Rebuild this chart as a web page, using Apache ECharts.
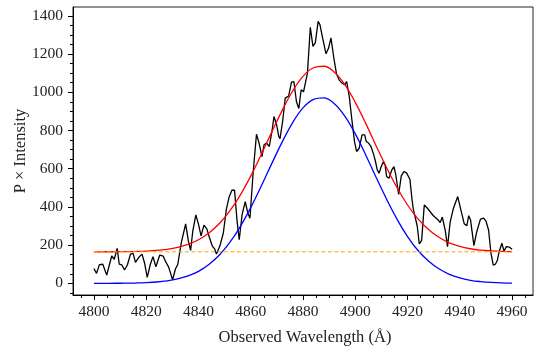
<!DOCTYPE html>
<html>
<head>
<meta charset="utf-8">
<script src="https://cdn.jsdelivr.net/npm/echarts@6/dist/echarts.min.js"></script>
<style>html,body{margin:0;padding:0;background:#fff}#c{width:543px;height:346px}</style>
</head>
<body>
<div id="c"></div>
<script>
// Observed spectrum (black)
const obsWave = [4800.0,4801.0,4802.1,4803.4,4804.0,4804.9,4806.8,4807.8,4808.9,4809.7,4810.7,4811.7,4812.8,4814.0,4815.0,4815.9,4817.1,4818.4,4819.4,4820.4,4821.6,4822.6,4823.7,4825.2,4826.5,4827.5,4828.6,4830.1,4831.2,4832.1,4833.4,4835.1,4836.1,4837.0,4837.8,4839.0,4840.1,4841.0,4842.1,4843.2,4844.2,4845.3,4846.2,4846.9,4848.2,4849.5,4850.7,4851.8,4852.8,4853.8,4854.8,4855.6,4856.7,4857.9,4858.9,4859.7,4860.9,4862.2,4863.2,4864.3,4865.1,4866.1,4867.1,4868.1,4868.9,4869.9,4870.7,4871.2,4872.2,4873.2,4874.5,4875.6,4876.5,4877.5,4878.4,4879.3,4880.2,4881.7,4882.8,4883.8,4884.7,4885.8,4886.5,4887.5,4888.8,4889.8,4890.7,4891.8,4892.8,4893.8,4894.9,4895.9,4896.7,4897.7,4898.7,4899.7,4900.5,4901.5,4902.6,4903.6,4904.2,4905.1,4906.0,4906.9,4907.7,4908.4,4909.1,4909.9,4910.8,4911.4,4912.0,4912.9,4914.0,4914.8,4915.5,4916.6,4917.6,4918.6,4919.6,4920.9,4921.7,4922.2,4922.9,4923.7,4924.5,4925.4,4926.4,4927.6,4929.8,4931.8,4932.5,4933.3,4934.4,4935.3,4936.3,4937.5,4939.2,4940.4,4941.7,4942.7,4943.4,4944.1,4945.4,4946.4,4947.9,4949.1,4950.0,4951.0,4951.9,4952.8,4953.6,4954.3,4955.1,4956.1,4956.9,4957.8,4959.0,4960.0];
const obsFlux = [78,52,98,100,90,43,143,126,183,100,96,70,96,153,157,110,135,153,105,31,100,140,87,148,143,112,85,19,75,100,210,311,225,172,270,358,305,248,305,285,240,195,180,153,195,262,390,455,487,488,323,228,360,428,367,341,576,780,734,663,725,734,716,794,873,830,770,757,847,969,980,1053,1056,950,915,1013,1002,1100,1340,1240,1258,1371,1353,1284,1201,1231,1284,1179,1097,1065,1048,1039,1056,978,856,742,690,707,777,777,742,734,716,680,640,594,576,610,637,620,559,550,594,611,567,465,562,585,578,545,440,388,380,300,206,225,410,393,355,330,318,347,279,192,320,390,454,384,311,302,354,332,197,266,336,341,326,279,160,95,100,118,168,210,168,192,189,178];
// Model curves (sampled every 4 A)
const modelWave = [4800,4804,4808,4812,4816,4820,4824,4828,4832,4836,4840,4844,4848,4852,4856,4860,4864,4868,4872,4876,4880,4884,4888,4892,4896,4900,4904,4908,4912,4916,4920,4924,4928,4932,4936,4940,4944,4948,4952,4956,4960];
const lineFlux = [0,0.2,0.4,0.9,1.9,3.7,7,12.9,22.8,38.6,62.9,98.5,148,214,297,396,508,625,739,840,918,963,971,940,875,782,672,554,440,335,245,172,117,76,47,28,16,9,4.8,2.4,1.2];
const totalFlux = [165,165.2,165.4,165.9,166.9,168.7,172,177.9,187.8,203.6,227.9,263.5,313,379,462,561,673,790,904,1005,1083,1128,1136,1105,1040,947,837,719,605,500,410,337,282,241,212,193,181,174,170,167.4,166.2];
const continuum = 165;
// Tick values
const xMajorTicks = [4800,4820,4840,4860,4880,4900,4920,4940,4960];
const xMinorTicks = [4795,4800,4805,4810,4815,4820,4825,4830,4835,4840,4845,4850,4855,4860,4865,4870,4875,4880,4885,4890,4895,4900,4905,4910,4915,4920,4925,4930,4935,4940,4945,4950,4955,4960,4965];
const yMajorTicks = [0,200,400,600,800,1000,1200,1400];
const yMinorTicks = [-50,0,50,100,150,200,250,300,350,400,450,500,550,600,650,700,750,800,850,900,950,1000,1050,1100,1150,1200,1250,1300,1350,1400];

const FONT = "'Liberation Serif','DejaVu Serif',serif";
const chart = echarts.init(document.getElementById('c'), null, {renderer:'canvas'});
const obs = obsWave.map((w,i)=>[w,obsFlux[i]]);
const lineD = modelWave.map((w,i)=>[w,lineFlux[i]]);
const totD = modelWave.map((w,i)=>[w,totalFlux[i]]);
const contD = [[modelWave[0],continuum],[modelWave[modelWave.length-1],continuum]];
const XMIN=4792, XMAX=4968, YMIN=-61, YMAX=1446;
const black = {color:'#000',width:1};
const plain = v => String(Math.round(v));
chart.setOption({
  animation:false,
  grid:{left:73,top:7,width:460,height:288,show:true,borderColor:'#222',borderWidth:1,backgroundColor:'transparent'},
  xAxis:[
    {type:'value',min:XMIN,max:XMAX,position:'bottom',
     axisLine:{show:true,onZero:false,lineStyle:black},
     axisTick:{show:true,customValues:xMajorTicks,length:5,lineStyle:black},
     axisLabel:{show:true,customValues:xMajorTicks,formatter:plain,margin:9,fontFamily:FONT,fontSize:15.5,color:'#222'},
     splitLine:{show:false}},
    {type:'value',min:XMIN,max:XMAX,position:'bottom',
     axisLine:{show:false,onZero:false},
     axisTick:{show:true,customValues:xMinorTicks,length:3,lineStyle:black},
     axisLabel:{show:false},splitLine:{show:false}}
  ],
  yAxis:[
    {type:'value',min:YMIN,max:YMAX,position:'left',
     axisLine:{show:true,onZero:false,lineStyle:black},
     axisTick:{show:true,customValues:yMajorTicks,length:5,lineStyle:black},
     axisLabel:{show:true,customValues:yMajorTicks,formatter:plain,margin:10,fontFamily:FONT,fontSize:15.5,color:'#222'},
     splitLine:{show:false}},
    {type:'value',min:YMIN,max:YMAX,position:'left',
     axisLine:{show:false,onZero:false},
     axisTick:{show:true,customValues:yMinorTicks,length:3,lineStyle:black},
     axisLabel:{show:false},splitLine:{show:false}}
  ],
  series:[
    {type:'line',data:obs,showSymbol:false,symbol:'none',lineStyle:{color:'#000',width:1.3},z:2},
    {type:'line',data:totD,showSymbol:false,symbol:'none',smooth:0.4,lineStyle:{color:'#ff0000',width:1.3},z:3},
    {type:'line',data:lineD,showSymbol:false,symbol:'none',smooth:0.4,lineStyle:{color:'#0000ff',width:1.3},z:3},
    {type:'line',data:contD,showSymbol:false,symbol:'none',lineStyle:{color:'#ffa500',width:1,type:[4,2.5]},z:4}
  ],
  graphic:[
    {type:'text',x:305,y:338,style:{text:'Observed Wavelength (Å)',fontFamily:FONT,fontSize:16.5,fill:'#222',align:'center',verticalAlign:'middle'}},
    {type:'text',x:21,y:151,rotation:Math.PI/2,style:{text:'P × Intensity',fontFamily:FONT,fontSize:16.5,fill:'#222',align:'center',verticalAlign:'middle'}}
  ]
});
</script>
</body>
</html>
